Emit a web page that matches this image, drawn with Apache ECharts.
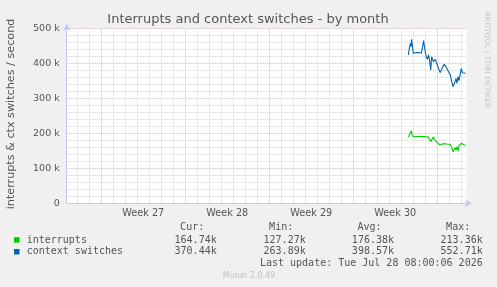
<!DOCTYPE html>
<html>
<head>
<meta charset="utf-8">
<script src="https://cdn.jsdelivr.net/npm/echarts@6/dist/echarts.min.js"></script>
<style>
  html, body { margin: 0; padding: 0; background: #f0f0f0; }
  #chart { width: 497px; height: 287px; }
</style>
</head>
<body>
<div id="chart"></div>
<script>
// x positions are days counted from Mon Jun 29 00:00 (start of week 27)
const weekLabels = ['Week 27', 'Week 28', 'Week 29', 'Week 30']
const weekCenters = [3.5, 10.5, 17.5, 24.5]
const yTicks = [0, 100, 200, 300, 400, 500] // k

// context switches (k / second)
const ctxDays = [25.59, 25.67, 25.75, 25.81, 25.86, 25.92, 26.00, 26.09, 26.20, 26.34, 26.50, 26.67, 26.78, 26.86, 26.95,
  27.06, 27.17, 27.28, 27.36, 27.45, 27.53, 27.59, 27.67, 27.84, 27.95, 28.09, 28.23, 28.34, 28.45, 28.59, 28.73, 28.86,
  28.98, 29.09, 29.20, 29.31, 29.39, 29.48, 29.56, 29.64, 29.73, 29.81, 29.92, 30.00, 30.09, 30.23, 30.36]
const ctxValues = [424.7, 443.8, 458.1, 448.5, 469.6, 453.3, 429.5, 424.7, 431.4, 429.5, 431.4, 429.5, 448.5, 465.7, 443.8,
  421.8, 412.3, 424.7, 408.5, 381.7, 419.9, 418.0, 405.6, 412.3, 400.8, 398.0, 374.1, 381.7, 391.3, 398.0, 393.2, 381.7,
  374.1, 367.4, 348.3, 334.0, 332.1, 348.3, 357.9, 343.6, 362.6, 351.2, 372.2, 386.5, 374.1, 370.3, 372.2]

// interrupts (k / second)
const irqDays = [25.59, 25.73, 25.84, 25.92, 26.03, 26.14, 26.28, 26.42, 26.56, 26.70, 26.84, 26.98, 27.11, 27.25, 27.39,
  27.48, 27.56, 27.67, 27.75, 27.86, 28.00, 28.09, 28.23, 28.39, 28.50, 28.64, 28.78, 28.92, 29.06, 29.14, 29.23, 29.31,
  29.39, 29.48, 29.56, 29.64, 29.73, 29.81, 29.92, 30.00, 30.11, 30.25, 30.36]
const irqValues = [189.6, 192.7, 208.0, 192.7, 188.0, 190.8, 190.8, 191.8, 193.7, 190.8, 191.8, 190.8, 186.1, 189.6, 184.1,
  176.5, 183.2, 189.6, 183.2, 186.1, 173.6, 169.8, 167.0, 169.8, 170.8, 170.8, 169.8, 168.9, 168.9, 167.0, 157.4, 147.9,
  146.0, 159.3, 152.6, 162.2, 149.8, 165.0, 168.9, 171.7, 168.9, 167.0, 166.0]

const seriesNames = ['interrupts', 'context switches']
const seriesColors = ['#00cc00', '#0066b3']
const curVals = ['164.74k', '370.44k']
const minVals = ['127.27k', '263.89k']
const avgVals = ['176.38k', '398.57k']
const maxVals = ['213.36k', '552.71k']
const lastUpdate = 'Last update: Tue Jul 28 08:00:06 2026'

const xMin = -2.883
const xMax = 30.45

let chart = echarts.init(document.getElementById('chart'))

// vertical grid lines: one per day, red at week starts
let gridLines = []
for (let d = -2; d <= 30; d++) {
  gridLines.push({
    xAxis: d,
    lineStyle: { color: d % 7 === 0 ? '#eeb0b0' : '#d4d4d4', type: [1, 1], width: 1 }
  })
}

const mono = 'DejaVu Sans Mono'
const sans = 'DejaVu Sans'
let graphics = [
  { type: 'text', x: 248, y: 19.5, style: { text: 'Interrupts and context switches - by month', font: '13px ' + sans, fill: '#555', align: 'center', verticalAlign: 'middle' } },
  { type: 'text', x: 11, y: 114, rotation: Math.PI / 2, style: { text: 'interrupts & ctx switches / second', font: '11.2px ' + sans, fill: '#555', align: 'center', verticalAlign: 'middle' } },
  { type: 'text', x: 487, y: 60, rotation: -Math.PI / 2, style: { text: 'RRDTOOL / TOBI OETIKER', font: '7.5px ' + sans, fill: '#c4c4c4', align: 'center', verticalAlign: 'middle' } },
  { type: 'text', x: 249, y: 276, style: { text: 'Munin 2.0.49', font: '8px ' + sans, fill: '#c0c0c0', align: 'center', verticalAlign: 'middle' } },
  { type: 'text', x: 482.7, y: 263.3, style: { text: lastUpdate, font: '10px ' + mono, fill: '#555', align: 'right', verticalAlign: 'middle' } }
]
const colX = [216.7, 305.7, 394, 482.7]
const heads = ['Cur:', 'Min:', 'Avg:', 'Max:']
heads.forEach((h, i) => {
  graphics.push({ type: 'text', x: colX[i] - 12.5, y: 227, style: { text: h, font: '10px ' + mono, fill: '#555', align: 'right', verticalAlign: 'middle' } })
})
seriesNames.forEach((name, r) => {
  let y = 240 + r * 11.8
  graphics.push({ type: 'rect', shape: { x: 14, y: y - 2.8, width: 5.5, height: 5.5 }, style: { fill: seriesColors[r] } })
  graphics.push({ type: 'text', x: 26.7, y: y, style: { text: name, font: '10px ' + mono, fill: '#555', align: 'left', verticalAlign: 'middle' } })
  let vals = [curVals[r], minVals[r], avgVals[r], maxVals[r]]
  vals.forEach((v, i) => {
    graphics.push({ type: 'text', x: colX[i], y: y, style: { text: v, font: '10px ' + mono, fill: '#555', align: 'right', verticalAlign: 'middle' } })
  })
})

let option = {
  backgroundColor: '#f0f0f0',
  animation: false,
  grid: {
    left: 66.7,
    right: 497 - 466.7,
    top: 28.7,
    bottom: 287 - 203.3,
    show: true,
    backgroundColor: '#fff',
    borderWidth: 0
  },
  xAxis: {
    type: 'value',
    min: xMin,
    max: xMax,
    axisLine: { show: true, onZero: false, lineStyle: { color: '#c8c8f0' }, symbol: ['none', 'arrow'], symbolSize: [6, 7], symbolOffset: [0, 5] },
    axisTick: { show: false },
    splitLine: { show: false },
    axisLabel: {
      customValues: weekCenters,
      formatter: function (value) {
        let i = weekCenters.indexOf(value)
        return i >= 0 ? weekLabels[i] : ''
      },
      color: '#555',
      fontFamily: sans,
      fontSize: 9.7,
      margin: 5
    }
  },
  yAxis: {
    type: 'value',
    min: 0,
    max: 500,
    interval: 100,
    axisLine: { show: true, onZero: false, lineStyle: { color: '#c8c8f0' }, symbol: ['none', 'arrow'], symbolSize: [6, 7], symbolOffset: [0, 5] },
    axisTick: { show: false },
    axisLabel: {
      customValues: yTicks,
      formatter: function (v) { return v === 0 ? '0' : v + ' k' },
      color: '#555',
      fontFamily: sans,
      fontSize: 9.5,
      margin: 7
    },
    splitLine: { show: true, lineStyle: { color: '#eeb0b0', type: [1, 1] } },
    minorTick: { show: false, splitNumber: 5 },
    minorSplitLine: { show: true, lineStyle: { color: '#d4d4d4', type: [1, 1] } }
  },
  series: [
    {
      name: seriesNames[0],
      type: 'line',
      data: irqDays.map((d, i) => [d, irqValues[i]]),
      showSymbol: false,
      lineStyle: { color: seriesColors[0], width: 1.1 },
      z: 3,
      markLine: {
        silent: true,
        symbol: ['none', 'none'],
        label: { show: false },
        data: gridLines,
        z: 1
      }
    },
    {
      name: seriesNames[1],
      type: 'line',
      data: ctxDays.map((d, i) => [d, ctxValues[i]]),
      showSymbol: false,
      lineStyle: { color: seriesColors[1], width: 1.1 },
      z: 3
    }
  ],
  graphic: graphics
}
chart.setOption(option)
</script>
</body>
</html>
